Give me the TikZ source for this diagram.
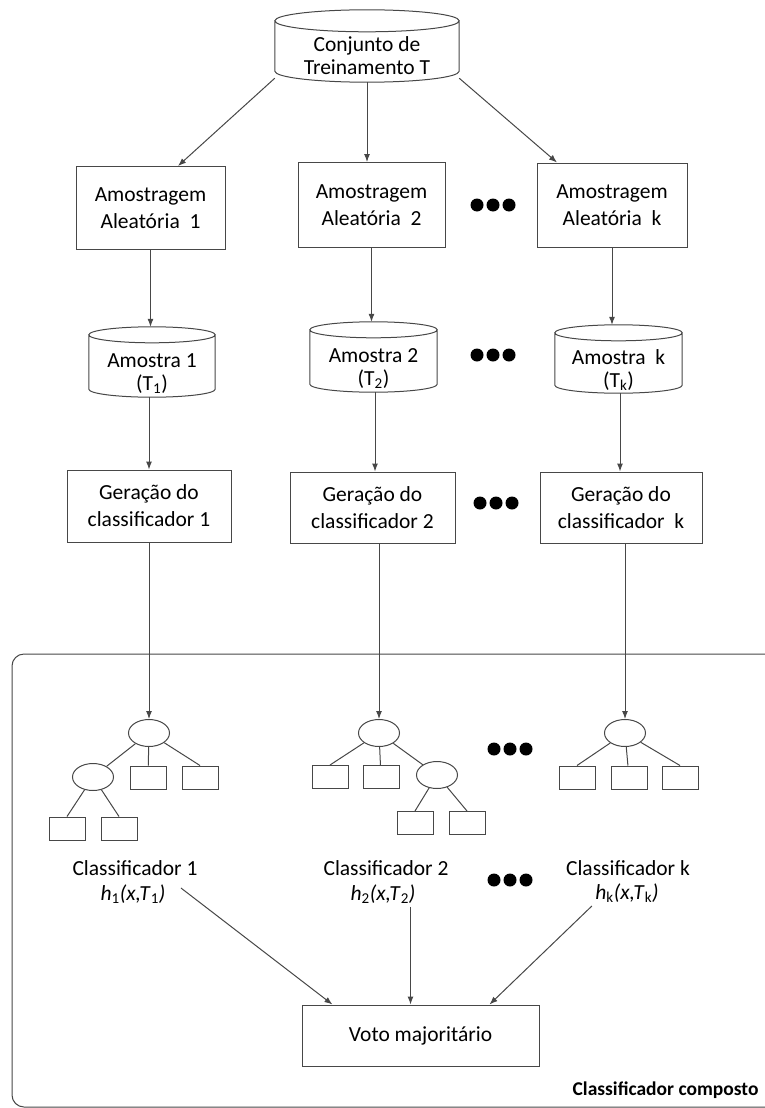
\documentclass[tikz,border=0pt]{standalone}
\usepackage{fontspec}
\setmainfont{Carlito}
\usetikzlibrary{shapes.geometric,arrows.meta,calc}

% texto do cilindro, um pouco abaixo do centro
\newcommand{\basetxt}[1]{\raisebox{0pt}[\dimexpr\height+12pt\relax][\dimexpr\depth-12pt\relax]{\begin{tabular}{@{}c@{}}#1\end{tabular}}}
% contorno de cilindro em volta de um no: #1 nome, #2 raio vertical
\newcommand{\drum}[2]{%
  \draw[line] let \p1=($(#1.east)-(#1.west)$), \n1={0.5*\x1} in
    ([yshift=-#2]#1.north) ellipse [x radius={\n1*1pt}, y radius=#2]
    ([yshift=-#2]#1.north west) -- ([yshift=#2]#1.south west)
    arc[start angle=180, end angle=360, x radius={\n1*1pt}, y radius=#2]
    -- ([yshift=-#2]#1.north east);
}

\tikzset{
  line/.style={draw=black!72, line width=1pt},
  arr/.style={line, -{Latex[length=8pt,width=6pt]}},
  procbox/.style={line, rectangle, align=center, inner sep=0pt},
  basebox/.style={rectangle, inner sep=0pt, font=\fontsize{21.5}{23}\selectfont},
  split/.style={line, ellipse, minimum width=41pt, minimum height=27pt, inner sep=0pt},
  leaf/.style={line, rectangle, minimum width=36pt, minimum height=23pt, inner sep=0pt},
}

\begin{document}
\begin{tikzpicture}[x=1pt, y=-1pt, font=\fontsize{21.5}{27}\selectfont]
    \useasboundingbox (0,0) rectangle (764,1108);
    % conjunto de treinamento
    \node[basebox, minimum width=184pt, minimum height=72pt] (conj) at (367,46) {\basetxt{Conjunto de\\Treinamento T}};
    \drum{conj}{11pt}
    % amostragem
    \node[procbox, minimum width=149pt, minimum height=83pt] (am1) at (150.5,208) {Amostragem\\Aleatória\ \ 1};
    \node[procbox, minimum width=147pt, minimum height=85pt] (am2) at (371.5,205) {Amostragem\\Aleatória\ \ 2};
    \node[procbox, minimum width=150pt, minimum height=84pt] (amk) at (612,205) {Amostragem\\Aleatória\ \ k};
    \draw[arr] ([yshift=4pt]conj.south west) -- (am1.north -| 178,0);
    \draw[arr] (conj.south) -- (conj.south |- am2.north);
    \draw[arr] ([yshift=4pt]conj.south east) -- (amk.north -| 557,0);
    % amostras
    \node[basebox, minimum width=126pt, minimum height=70pt] (s1) at (152,362) {\basetxt{Amostra 1\\(T\textsubscript{1})}};
    \node[basebox, minimum width=127pt, minimum height=70pt] (s2) at (373.5,357) {\basetxt{Amostra 2\\(T\textsubscript{2})}};
    \node[basebox, minimum width=127pt, minimum height=68pt] (sk) at (618.5,359) {\basetxt{Amostra\ \ k\\(T\textsubscript{k})}};
    \drum{s1}{8pt}
    \drum{s2}{8pt}
    \drum{sk}{8pt}
    \draw[arr] (am1.south) -- (am1.south |- s1.north);
    \draw[arr] (am2.south) -- (am2.south |- s2.north);
    \draw[arr] (amk.south) -- (amk.south |- sk.north);
    % geracao
    \node[procbox, minimum width=164pt, minimum height=72pt] (g1) at (149,506) {Geração do\\classificador 1};
    \node[procbox, minimum width=165pt, minimum height=71pt] (g2) at (372.5,507.5) {Geração do\\classificador 2};
    \node[procbox, minimum width=162pt, minimum height=71pt] (gk) at (621,507.5) {Geração do\\classificador\ \ k};
    \draw[arr] (s1.south -| g1.north) -- (g1.north);
    \draw[arr] (s2.south -| 375,0) -- (375,0 |- g2.north);
    \draw[arr] (sk.south -| 620,0) -- (620,0 |- gk.north);
    % classificador composto
    \draw[line, rounded corners=12pt] (780,654) -- (12,654) -- (12,1107) -- (780,1107);
    \node[font=\bfseries\fontsize{19.5}{22}\selectfont, anchor=east] (comp) at (762,1090) {Classificador composto};
    % arvores
    \node[split] (r1) at (149,733) {};
    \node[split] (c1) at (93,777) {};
    \node[leaf] (l1a) at (148,777.5) {};
    \node[leaf] (l1b) at (200,777.5) {};
    \node[leaf] (l1c) at (67,828.5) {};
    \node[leaf] (l1d) at (119,828.5) {};
    \draw[line] (r1) -- (c1) (r1) -- (l1a) (r1) -- (l1b.north) (c1) -- (l1c.north) (c1) -- (l1d.north);
    \node[split] (r2) at (379,733) {};
    \node[split] (c2) at (437,775) {};
    \node[leaf] (l2a) at (330,777) {};
    \node[leaf] (l2b) at (381,777) {};
    \node[leaf] (l2c) at (415,823) {};
    \node[leaf] (l2d) at (467,823) {};
    \draw[line] (r2) -- (l2a.north) (r2) -- (l2b) (r2) -- (c2) (c2) -- (l2c.north) (c2) -- (l2d.north);
    \node[split] (rk) at (625,733) {};
    \node[leaf] (lka) at (577,777.5) {};
    \node[leaf] (lkb) at (629,777.5) {};
    \node[leaf] (lkc) at (680,777.5) {};
    \draw[line] (rk) -- (lka.north) (rk) -- (lkb) (rk) -- (lkc.north);
    \draw[arr] (g1.south) -- (r1);
    \draw[arr] (g2.south -| r2) -- (r2);
    \draw[arr] (gk.south -| rk) -- (rk);
    % classificadores
    \node (cl1) at (135,868) {Classificador 1};
    \node (h1) at (133,894) {\textit{h}\textsubscript{1}\textit{(x,T}\textsubscript{1}\textit{)}};
    \node (cl2) at (386,868) {Classificador 2};
    \node (h2) at (383,894) {\textit{h}\textsubscript{2}\textit{(x,T}\textsubscript{2}\textit{)}};
    \node (clk) at (628,868) {Classificador k};
    \node (hk) at (627,893) {\textit{h}\textsubscript{k}\textit{(x,T}\textsubscript{k}\textit{)}};
    % voto
    \node[procbox, minimum width=237pt, minimum height=61pt] (voto) at (420.5,1035.5) {Voto majoritário};
    \draw[arr] ([xshift=12pt,yshift=6pt]h1.east) -- ($(voto.north west)!0.13!(voto.north east)$);
    \draw[arr] ([xshift=-10pt]voto.north |- h2.south) -- ([xshift=-10pt]voto.north);
    \draw[arr] (hk.south west) -- ($(voto.north west)!0.79!(voto.north east)$);
    % pontos
    \foreach \y/\dx in {205/0,355/0,503/3,749/17,880/17}
        \foreach \x in {477,493,509}
            \fill ($(\x,\y)+(\dx,0)$) circle (6.5);
\end{tikzpicture}
\end{document}
